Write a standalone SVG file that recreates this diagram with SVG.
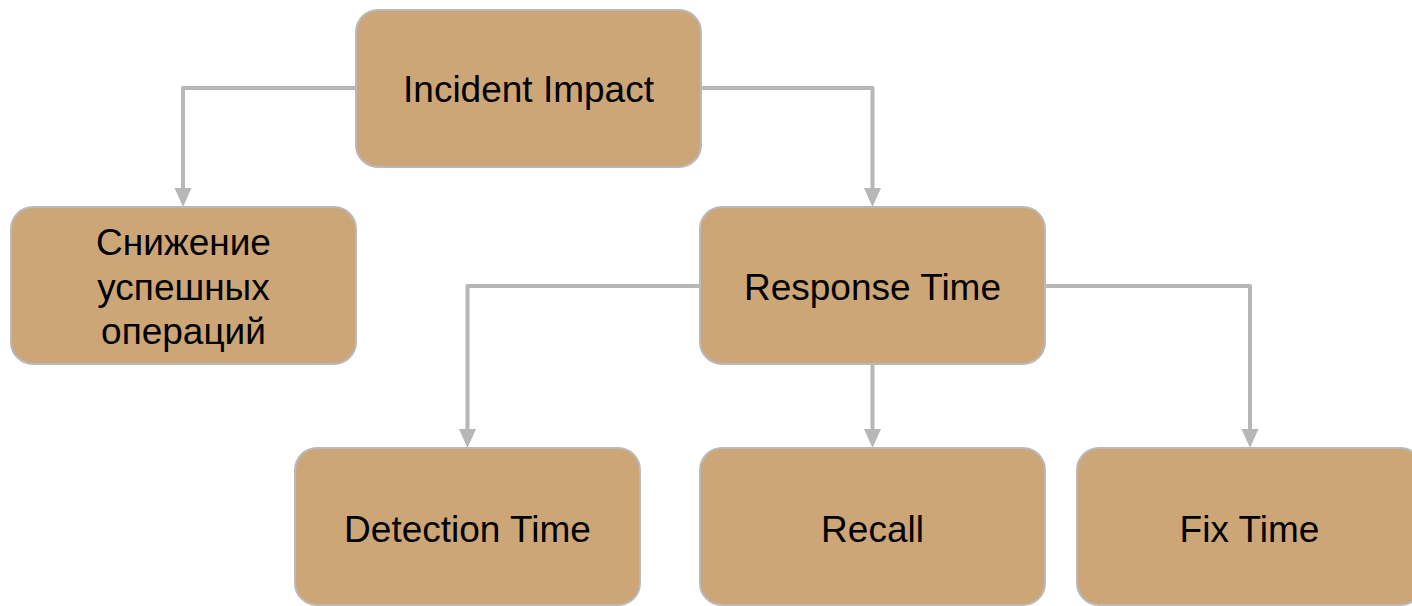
<svg xmlns="http://www.w3.org/2000/svg" width="1412" height="606" viewBox="0 0 1412 606">
<style>
.box{fill:#cca677;stroke:#b9b9b9;stroke-width:2}
.lbl{font-family:"Liberation Sans",Arial,sans-serif;font-size:37px;fill:#000;text-anchor:middle}
.conn{fill:none;stroke:#b7b7b7;stroke-width:4;stroke-linejoin:round}
</style>
<defs>
<marker id="arr" markerUnits="userSpaceOnUse" markerWidth="20" markerHeight="18" refX="0" refY="8.5" orient="auto">
<path d="M0,0 L19,8.5 L0,17 z" fill="#b7b7b7"/>
</marker>
</defs>
<g id="connectors">
<path class="conn" d="M357,88 H183 V188" marker-end="url(#arr)"/>
<path class="conn" d="M700,88 H872.5 V188" marker-end="url(#arr)"/>
<path class="conn" d="M701,286 H467.5 V429" marker-end="url(#arr)"/>
<path class="conn" d="M872.5,364 V429" marker-end="url(#arr)"/>
<path class="conn" d="M1044,286 H1250 V429" marker-end="url(#arr)"/>
</g>
<g id="incident-impact">
<rect class="box" x="356" y="10" width="345" height="157" rx="22"/>
<text class="lbl" x="528.5" y="102">Incident Impact</text>
</g>
<g id="snizhenie">
<rect class="box" x="11" y="207" width="345" height="157" rx="22"/>
<text class="lbl" x="183.5" y="255">Снижение</text>
<text class="lbl" x="183.5" y="299.5">успешных</text>
<text class="lbl" x="183.5" y="344">операций</text>
</g>
<g id="response-time">
<rect class="box" x="700" y="207" width="345" height="157" rx="22"/>
<text class="lbl" x="872.5" y="300">Response Time</text>
</g>
<g id="detection-time">
<rect class="box" x="295" y="448" width="345" height="157" rx="22"/>
<text class="lbl" x="467.5" y="541.5">Detection Time</text>
</g>
<g id="recall">
<rect class="box" x="700" y="448" width="345" height="157" rx="22"/>
<text class="lbl" x="872.5" y="541.5">Recall</text>
</g>
<g id="fix-time">
<rect class="box" x="1077" y="448" width="345" height="157" rx="22"/>
<text class="lbl" x="1249.5" y="541.5">Fix Time</text>
</g>
</svg>
